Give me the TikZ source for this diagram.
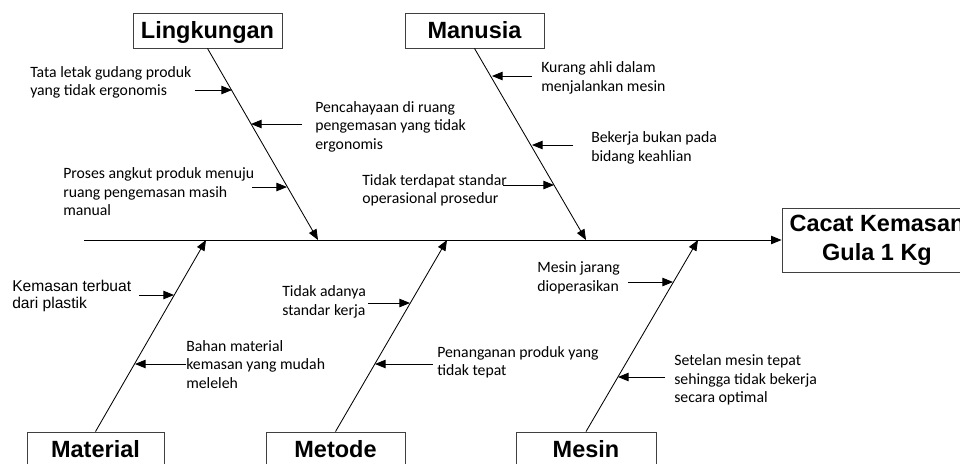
\documentclass[tikz,border=0pt]{standalone}
\usepackage{fontspec}
\setmainfont{Carlito}
\newfontfamily\arialfont{Liberation Sans}
\usepackage{tikz}
\usetikzlibrary{arrows.meta}

\tikzset{
  bone/.style={draw=black!75, line width=0.6pt, fill=white, inner sep=0pt,
    minimum height=0.875cm, text height=12pt, text depth=0pt,
    font=\arialfont\bfseries\fontsize{16.7}{20.5}\selectfont},
  cause/.style={anchor=west, align=left, inner sep=0pt,
    font=\fontsize{11.2}{13.2}\selectfont},
  arr/.style={line width=0.6pt, -{Triangle[length=7.5pt,width=6pt]}}
}

\begin{document}
\begin{tikzpicture}[x=0.025cm, y=-0.025cm]
                \useasboundingbox (0,0) rectangle (960,463);
                \clip (0,0) rectangle (960,463);

                % kategori
                \node[bone, minimum width=3.725cm] (lingkungan) at (207.5,30.5) {Lingkungan};
                \node[bone, minimum width=3.475cm] (manusia) at (474.5,30.5) {Manusia};
                \node[bone, minimum width=3.425cm] (material) at (95.5,449.5) {Material};
                \node[bone, minimum width=3.475cm] (metode) at (335.5,449.5) {Metode};
                \node[bone, minimum width=3.5cm] (mesin) at (586,449.5) {Mesin};

                \node[draw=black!75, line width=0.6pt, inner sep=0pt, minimum width=4.75cm, minimum height=1.6cm, align=center,
                    font=\arialfont\bfseries\fontsize{16.7}{20.5}\selectfont] (akibat) at (877,240) {Cacat Kemasan\\Gula 1 Kg};

                \coordinate (ekor) at (84,240);
                \draw[arr] (ekor) -- (akibat.west);

                \foreach \n/\x in {lingkungan/318, manusia/586} {
                        \coordinate (\n-ujung) at (\x,240);
                        \draw[arr] (\n.south) -- (\n-ujung);
                    }
                \foreach \n/\x in {material/206, metode/447, mesin/698} {
                        \coordinate (\n-ujung) at (\x,240);
                        \draw[arr] (\n.north) -- (\n-ujung);
                    }

                % penyebab
                \node[cause] (l1) at (30,82.5) {Tata letak gudang produk\\yang tidak ergonomis};
                \node[cause] (l2) at (315,126.5) {Pencahayaan di ruang\\pengemasan yang tidak\\ergonomis};
                \node[cause] (l3) at (63,192) {Proses angkut produk menuju\\ruang pengemasan masih\\manual};

                \node[cause] (m1) at (541,78) {Kurang ahli dalam\\menjalankan mesin};
                \node[cause] (m2) at (591,148) {Bekerja bukan pada\\bidang keahlian};
                \node[cause] (m3) at (362,190.5) {Tidak terdapat standar\\operasional prosedur};

                \node[cause, font=\arialfont\fontsize{11.1}{12.1}\selectfont] (ma1) at (12,295.5) {Kemasan terbuat\\dari plastik};
                \node[cause] (ma2) at (186,364.5) {Bahan material\\kemasan yang mudah\\meleleh};

                \node[cause] (me1) at (282,302) {Tidak adanya\\standar kerja};
                \node[cause] (me2) at (437,362.5) {Penanganan produk yang\\tidak tepat};

                \node[cause] (ms1) at (537,278) {Mesin jarang\\dioperasikan};
                \node[cause] (ms2) at (674,380) {Setelan mesin tepat\\sehingga tidak bekerja\\secara optimal};

                \foreach \n/\a/\b/\y in {l1/195/232/90, l2/302/251/124, l3/252/287/187,
                        m1/532/492/76, m2/573/532/145, m3/503/554/185,
                        ma1/139/174/295, ma2/186/135/364, me1/368/410/303, me2/433/375/364,
                        ms1/628/673/282, ms2/665/618/377} {
                        \coordinate (\n-a) at (\a,\y);
                        \coordinate (\n-b) at (\b,\y);
                        \draw[arr] (\n-a) -- (\n-b);
                    }

            \end{tikzpicture}
\end{document}
